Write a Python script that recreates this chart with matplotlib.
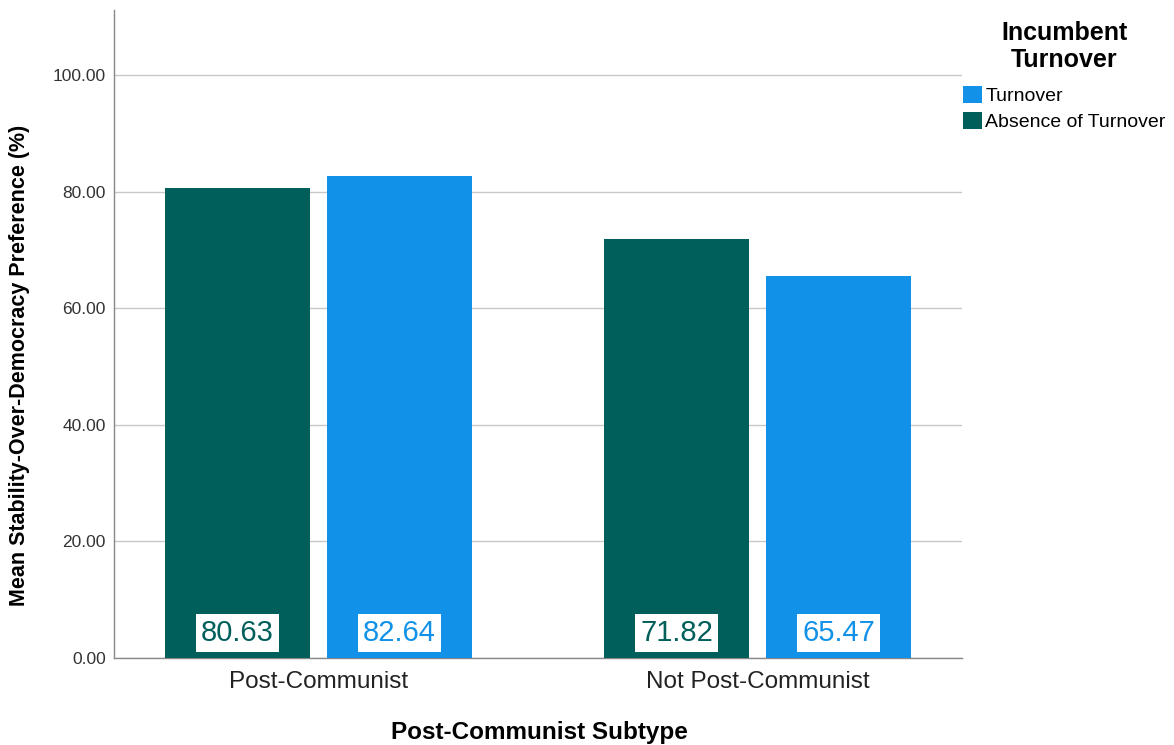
import matplotlib
matplotlib.use("Agg")
import matplotlib.pyplot as plt
import numpy as np

plt.rcParams['font.family'] = ['Liberation Sans', 'DejaVu Sans']

categories = ["Post-Communist", "Not Post-Communist"]
series_names = ["Absence of Turnover", "Turnover"]
absence_vals = [80.63, 71.82]
turnover_vals = [82.64, 65.47]
yticks = [0, 20, 40, 60, 80, 100]

c_dark = "#005e5b"
c_blue = "#1192e8"

W, H = 1174, 745
fig = plt.figure(figsize=(W/100, H/100), dpi=100)
ax = fig.add_axes([114/W, (H-658)/H, (962-114)/W, (658-10)/H])

x = np.arange(len(categories))
bw = 0.330
off = 0.1845
b1 = ax.bar(x - off, absence_vals, bw, color=c_dark, label=series_names[0], zorder=3)
b2 = ax.bar(x + off, turnover_vals, bw, color=c_blue, label=series_names[1], zorder=3)

for bars, vals, col in [(b1, absence_vals, c_dark), (b2, turnover_vals, c_blue)]:
    for r, v in zip(bars, vals):
        ax.text(r.get_x() + r.get_width()/2, 4.3, f"{v:.2f}", ha='center', va='center',
                fontsize=21, color=col, zorder=4,
                bbox=dict(boxstyle='square,pad=0.17', fc='white', ec='none'))

ax.set_xlim(-0.466, 1.466)
ax.set_ylim(0, 111.2)
ax.set_yticks(yticks)
ax.set_yticklabels([f"{t:.2f}" for t in yticks], fontsize=12.5, color='#333333')
ax.set_xticks(x)
ax.set_xticklabels(categories, fontsize=17.5, color='#222222')
ax.tick_params(axis='both', length=0)
ax.tick_params(axis='y', pad=6)
ax.tick_params(axis='x', pad=9)
ax.grid(axis='y', color='#c8c8c8', linewidth=1, zorder=0)
for s in ['top', 'right']:
    ax.spines[s].set_visible(False)
for s in ['left', 'bottom']:
    ax.spines[s].set_color('#888888')
    ax.spines[s].set_linewidth(1)

fig.text(20/W, (H-365)/H, "Mean Stability-Over-Democracy Preference (%)", rotation=90,
         ha='center', va='center', fontsize=15.5, fontweight='bold')
fig.text(539/W, (H-732)/H, "Post-Communist Subtype", ha='center', va='center',
         fontsize=17.5, fontweight='bold')

leg = fig.legend(handles=[b2, b1], labels=[series_names[1], series_names[0]],
                 loc='upper left', bbox_to_anchor=(963/W, (H-21)/H),
                 frameon=False, fontsize=14, handlelength=1.0, handleheight=1.0,
                 handletextpad=0.15, borderpad=0, borderaxespad=0, labelspacing=0.35,
                 title="Incumbent\nTurnover", alignment='center',
                 title_fontproperties={'weight': 'bold', 'size': 18})
leg._legend_box.sep = 10
plt.setp(leg.get_title(), multialignment='center', linespacing=1.15)

fig.savefig("out.png", dpi=100)
